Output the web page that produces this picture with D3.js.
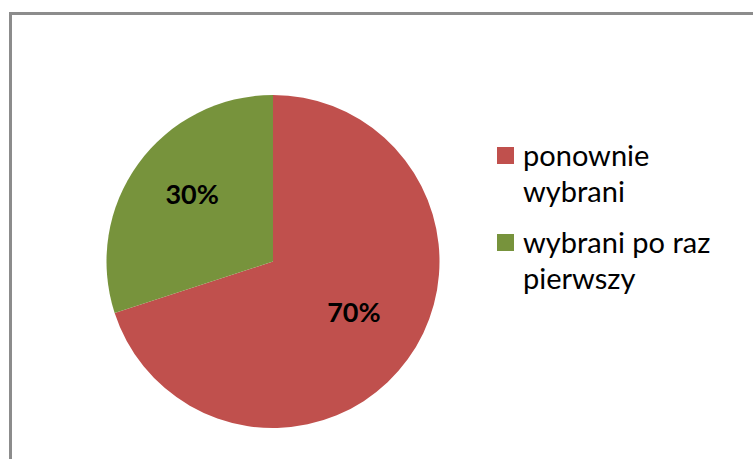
<!DOCTYPE html>
<html>
<head>
<meta charset="utf-8">
<script src="https://cdn.jsdelivr.net/npm/d3@7"></script>
<style>
  html, body { margin: 0; padding: 0; background: #fff; }
  svg { display: block; }
</style>
</head>
<body>
<svg id="chart" width="753" height="459"></svg>
<script>
// chart data
var categories = ['ponownie wybrani', 'wybrani po raz pierwszy'];
var values = [70, 30];
var colors = ['#C0504D', '#77933C'];
// legend text as it wraps in the picture
var legendLines = [['ponownie', 'wybrani'], ['wybrani po raz', 'pierwszy']];

var props = {
    width: 753,
    height: 459,
    cx: 273,
    cy: 261.5,
    radius: 166.5,
    labelRadius: 100
};

var svg = d3.select('#chart');

// frame (only top and left edges are visible)
svg.append('path')
    .attr('d', 'M10.5,459 L10.5,13.5 L753,13.5')
    .attr('fill', 'none')
    .attr('stroke', '#8c8c8c')
    .attr('stroke-width', 3);

var data = categories.map(function (c, i) {
    return { name: c, value: values[i], color: colors[i] };
});

var pie = d3.pie()
    .sort(null)
    .value(function (d) { return d.value; });

var arc = d3.arc()
    .innerRadius(0)
    .outerRadius(props.radius);

var labelArc = d3.arc()
    .innerRadius(props.labelRadius)
    .outerRadius(props.labelRadius);

var total = d3.sum(values);

var g = svg.append('g')
    .attr('transform', 'translate(' + props.cx + ',' + props.cy + ')');

var slices = g.selectAll('.slice')
    .data(pie(data))
    .enter().append('g')
    .attr('class', 'slice');

slices.append('path')
    .attr('d', arc)
    .attr('fill', function (d) { return d.data.color; });

slices.append('text')
    .attr('transform', function (d) {
        var c = labelArc.centroid(d);
        return 'translate(' + c[0] + ',' + (c[1] - 8) + ')';
    })
    .attr('text-anchor', 'middle')
    .attr('dy', '0.36em')
    .style('font-family', 'Lato, "Open Sans", sans-serif')
    .style('font-weight', 'bold')
    .style('font-size', '27px')
    .style('fill', '#000')
    .text(function (d) { return Math.round(d.data.value / total * 100) + '%'; });

// legend
var legend = svg.append('g')
    .attr('transform', 'translate(497,147)');

var items = legend.selectAll('.item')
    .data(data)
    .enter().append('g')
    .attr('class', 'item')
    .attr('transform', function (d, i) { return 'translate(0,' + (i * 87) + ')'; });

items.append('rect')
    .attr('width', 17)
    .attr('height', 17)
    .attr('fill', function (d) { return d.color; });

items.append('text')
    .style('font-family', 'Lato, "Open Sans", sans-serif')
    .style('font-size', '29px')
    .style('fill', '#000')
    .selectAll('tspan')
    .data(function (d, i) { return legendLines[i]; })
    .enter().append('tspan')
    .attr('x', 26)
    .attr('y', function (d, j) { return 19 + j * 36; })
    .text(function (d) { return d; });
</script>
</body>
</html>
